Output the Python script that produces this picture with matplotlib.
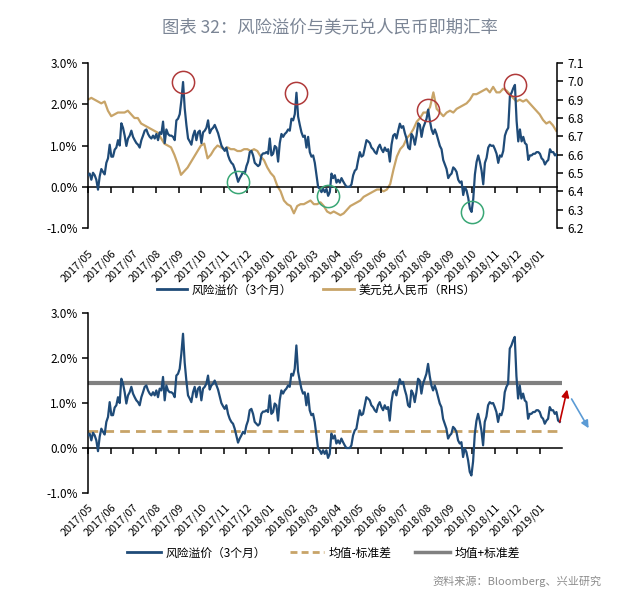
import matplotlib
matplotlib.use('Agg')
import matplotlib.pyplot as plt
import matplotlib.dates as mdates
from matplotlib.lines import Line2D
from matplotlib.ticker import FuncFormatter, MultipleLocator
import numpy as np
import pandas as pd

plt.rcParams['font.family'] = ['Noto Sans CJK SC', 'DejaVu Sans']

# ---------------- data ----------------
# 风险溢价（3个月）, %  (roughly every 2 days, 2017-05-01 .. 2019-01-28)
risk_premium = [
    0.28, 0.32, 0.17, 0.34, 0.28, 0.17, -0.07, 0.25, 0.43, 0.36,
    0.30, 0.58, 0.69, 1.02, 0.73, 0.73, 0.90, 0.95, 1.13, 1.00,
    1.54, 1.43, 1.24, 0.99, 1.17, 1.24, 1.36, 1.21, 1.13, 1.06,
    1.02, 0.95, 1.13, 1.24, 1.36, 1.39, 1.28, 1.21, 1.17, 1.24,
    1.17, 1.28, 1.13, 1.32, 1.28, 1.58, 1.06, 1.39, 1.28, 1.24,
    1.24, 1.21, 1.13, 1.61, 1.65, 1.76, 2.10, 2.54, 1.90, 1.50,
    1.17, 1.10, 1.02, 1.24, 1.36, 1.13, 1.32, 1.36, 1.06, 1.32,
    1.36, 1.43, 1.61, 1.30, 1.39, 1.43, 1.50, 1.40, 1.30, 1.15,
    1.00, 0.93, 0.87, 0.95, 0.76, 0.65, 0.58, 0.54, 0.43, 0.28,
    0.12, 0.21, 0.28, 0.36, 0.32,
    0.50, 0.61, 0.84, 0.87, 0.76, 0.58, 0.54, 0.50, 0.54, 0.76,
    0.81, 0.81, 0.84, 0.80, 1.17, 0.76, 0.80, 0.99, 0.95, 0.61,
    1.06, 1.28, 1.21, 1.28, 1.32, 1.39, 1.36, 1.65, 1.61, 1.76,
    2.28, 1.70, 1.50, 1.32, 1.21, 1.24, 0.95, 1.21, 0.84, 0.73,
    0.76, 0.58, 0.28, -0.01, -0.05, -0.13, -0.05, -0.13, -0.05, -0.22,
    -0.13, 0.32, 0.21, 0.28, 0.10, 0.17, 0.10, 0.21, 0.13, 0.06,
    0.00, 0.00, 0.00, 0.06, 0.28, 0.39, 0.43, 0.65, 0.84, 0.73,
    0.76, 0.95, 1.13, 1.10, 1.06, 0.95, 0.91, 0.84, 0.80, 0.95,
    1.02, 0.91, 0.84, 0.95, 0.87, 0.91, 0.61, 1.02, 1.24, 1.28,
    1.17, 1.36, 1.53, 1.43, 1.47, 1.30,
    1.17, 0.95, 0.91, 1.28, 1.21, 1.02, 1.24, 1.54, 1.50, 1.21,
    1.43, 1.54, 1.65, 1.87, 1.60, 1.39, 1.28, 1.39, 1.28, 1.13,
    0.99, 0.91, 0.65, 0.54, 0.43, 0.21, 0.28, 0.32, 0.47, 0.43,
    0.36, 0.17, 0.10, 0.13, -0.20, -0.01, -0.09, -0.27, -0.53, -0.61,
    -0.30, 0.30, 0.60, 0.76, 0.60, 0.39, 0.06, 0.58, 0.70, 0.95,
    1.02, 0.99, 1.00, 0.91, 0.80, 0.58, 0.76, 0.73, 0.87, 1.24,
    1.36, 1.43, 2.21, 2.28, 2.39, 2.47, 1.60, 1.10, 1.39, 1.10,
    1.21, 1.06, 1.02, 0.65, 0.76, 0.76, 0.80, 0.80, 0.84, 0.84,
    0.80, 0.69, 0.65, 0.54, 0.61, 0.65, 0.91, 0.84, 0.84, 0.76,
    0.80, 0.61, 0.58,
]
risk_start, risk_end = '2017-05-01', '2019-01-28'

# 美元兑人民币 (RHS)  (roughly every 4 days, 2017-05-01 .. 2019-01-23)
usdcny = [
    6.90, 6.91, 6.90, 6.89, 6.88, 6.89, 6.84, 6.81, 6.82, 6.83,
    6.83, 6.83, 6.84, 6.82, 6.80, 6.80, 6.77, 6.76, 6.75, 6.74,
    6.73, 6.72, 6.69, 6.66, 6.65, 6.64, 6.60, 6.55, 6.49, 6.51,
    6.53, 6.56, 6.59, 6.62, 6.65, 6.66, 6.58, 6.60, 6.63, 6.65,
    6.64, 6.63, 6.64, 6.63, 6.63, 6.62, 6.62, 6.63, 6.63, 6.62,
    6.63, 6.62, 6.59, 6.57, 6.53, 6.50, 6.48, 6.43, 6.40, 6.35,
    6.33, 6.32, 6.28, 6.32, 6.33, 6.33, 6.34, 6.35, 6.33, 6.33,
    6.34,
    6.32, 6.29, 6.28, 6.29, 6.28, 6.27, 6.28, 6.30, 6.32, 6.33,
    6.34, 6.35, 6.37, 6.38, 6.39, 6.40, 6.41, 6.41, 6.40, 6.41,
    6.44, 6.52, 6.59, 6.63, 6.65, 6.69, 6.71, 6.74, 6.78, 6.80,
    6.83, 6.83, 6.86, 6.94, 6.85, 6.83, 6.81, 6.83, 6.84, 6.83,
    6.85, 6.86, 6.87, 6.88, 6.90, 6.93, 6.93, 6.94, 6.95, 6.96,
    6.94, 6.97, 6.94, 6.94, 6.96, 6.95, 6.93, 6.91, 6.89, 6.90,
    6.89, 6.90, 6.88, 6.86, 6.84, 6.82, 6.79, 6.77, 6.78, 6.76,
    6.73,
]
fx_start, fx_end = '2017-05-01', '2019-01-23'

mean_plus_std = 1.44   # 均值+标准差
mean_minus_std = 0.38  # 均值-标准差

# approximate dates of highlighted extremes
peak_dates = ['2017-09-06', '2018-02-06', '2018-08-04', '2018-11-27']
trough_dates = ['2017-11-20', '2018-03-17', '2018-10-01']

title = '图表 32：风险溢价与美元兑人民币即期汇率'
label_rp = '风险溢价（3个月）'
label_fx = '美元兑人民币（RHS）'
label_lo = '均值-标准差'
label_hi = '均值+标准差'
source = '资料来源：Bloomberg、兴业研究'

# ---------------- styles ----------------
BLUE = '#1f4b78'
TAN = '#c8a468'
GRAY = '#808080'
RED_C = '#b03a3a'
GREEN_C = '#3aa776'

rp = pd.Series(risk_premium,
               index=pd.date_range(risk_start, risk_end, periods=len(risk_premium)))
fx = pd.Series(usdcny,
               index=pd.date_range(fx_start, fx_end, periods=len(usdcny)))

fig = plt.figure(figsize=(6.4, 5.93), dpi=100)
fig.text(0.516, 0.954, title, ha='center', va='center', fontsize=12.5,
         color='#7b8595')

pct = FuncFormatter(lambda v, p: f'{v:.1f}%')


def style_axis(ax, pad):
    ax.set_ylim(-1, 3)
    ax.yaxis.set_major_locator(MultipleLocator(1))
    ax.yaxis.set_major_formatter(pct)
    ax.spines['top'].set_visible(False)
    ax.spines['right'].set_visible(False)
    ax.spines['bottom'].set_position(('data', 0))
    ax.spines['bottom'].set_linewidth(1.1)
    ax.spines['left'].set_linewidth(1.1)
    ax.xaxis.set_major_locator(mdates.MonthLocator())
    ax.xaxis.set_major_formatter(mdates.DateFormatter('%Y/%m'))
    ax.tick_params(axis='x', direction='out', length=4, width=1.1, pad=pad,
                   labelsize=7.8)
    ax.tick_params(axis='y', direction='out', length=4, width=1.1, labelsize=8.5)
    for lab in ax.get_xticklabels():
        lab.set_rotation(45)
        lab.set_ha('right')
        lab.set_va('top')
        lab.set_rotation_mode('anchor')


# ---------------- top chart ----------------
ax1 = fig.add_axes([0.1375, 0.6155, 0.7328, 0.2782])
ax1.set_xlim(pd.Timestamp('2017-05-01'), pd.Timestamp('2019-01-24'))
ax1.plot(rp.index, rp.values, color=BLUE, lw=1.6, zorder=3)
style_axis(ax1, 40)

ax1r = ax1.twinx()
ax1r.plot(fx.index, fx.values, color=TAN, lw=1.6)
ax1r.set_ylim(6.2, 7.1)
ax1r.yaxis.set_major_locator(MultipleLocator(0.1))
ax1r.yaxis.set_major_formatter(FuncFormatter(lambda v, p: f'{v:.1f}'))
for s in ['top', 'left', 'bottom']:
    ax1r.spines[s].set_visible(False)
ax1r.spines['right'].set_linewidth(1.1)
ax1r.tick_params(axis='y', direction='out', length=4, width=1.1, labelsize=8.5)
ax1.set_zorder(ax1r.get_zorder() + 1)
ax1.patch.set_visible(False)


def extreme(d, fn):
    d = pd.Timestamp(d)
    win = rp[(rp.index >= d - pd.Timedelta(days=6)) & (rp.index <= d + pd.Timedelta(days=6))]
    idx = win.idxmax() if fn == 'max' else win.idxmin()
    return idx, win[idx]


for d in peak_dates:
    x, y = extreme(d, 'max')
    ax1.plot([x], [y], 'o', ms=16, mfc='none', mec=RED_C, mew=1.1,
             clip_on=False, zorder=4)
for d in trough_dates:
    x, y = extreme(d, 'min')
    ax1.plot([x], [y], 'o', ms=16, mfc='none', mec=GREEN_C, mew=1.1,
             clip_on=False, zorder=4)

h_rp = Line2D([], [], color=BLUE, lw=2)
h_fx = Line2D([], [], color=TAN, lw=2)
fig.legend([h_rp, h_fx], [label_rp, label_fx], loc='center',
           bbox_to_anchor=(0.494, 0.511), ncol=2, frameon=False, fontsize=8.5,
           handlelength=2.6, columnspacing=2.6, handletextpad=0.4)

# ---------------- bottom chart ----------------
ax2 = fig.add_axes([0.1375, 0.1686, 0.7406, 0.3035])
ax2.set_xlim(pd.Timestamp('2017-05-01'), pd.Timestamp('2019-01-31'))
ax2.axhline(mean_plus_std, color=GRAY, lw=3, zorder=2)
ax2.axhline(mean_minus_std, color=TAN, lw=2, dashes=(3.5, 2.2), zorder=2)
ax2.plot(rp.index, rp.values, color=BLUE, lw=1.6, zorder=3)
style_axis(ax2, 35)

# direction arrows after the last observation
last_x, last_y = rp.index[-1], rp.values[-1]
ax2.annotate('', xy=(last_x + pd.Timedelta(days=10), last_y + 0.72),
             xytext=(last_x, last_y), annotation_clip=False,
             arrowprops=dict(arrowstyle='-|>', color='#c00000', lw=1.2,
                             mutation_scale=11, shrinkA=0, shrinkB=0))
ax2.annotate('', xy=(last_x + pd.Timedelta(days=39), last_y - 0.14),
             xytext=(last_x + pd.Timedelta(days=16), last_y + 0.51),
             annotation_clip=False,
             arrowprops=dict(arrowstyle='-|>', color='#5b9bd5', lw=1.2,
                             mutation_scale=11, shrinkA=0, shrinkB=0))

h_lo = Line2D([], [], color=TAN, lw=2, dashes=(2.5, 1.5))
h_hi = Line2D([], [], color=GRAY, lw=2.5)
fig.legend([h_rp, h_lo, h_hi], [label_rp, label_lo, label_hi], loc='center',
           bbox_to_anchor=(0.505, 0.0675), ncol=3, frameon=False, fontsize=8.5,
           handlelength=2.9, columnspacing=2.0, handletextpad=0.4)

fig.text(0.94, 0.019, source, ha='right', va='center', fontsize=8,
         color='#8c8c8c')

fig.savefig('out.png', dpi=100)
